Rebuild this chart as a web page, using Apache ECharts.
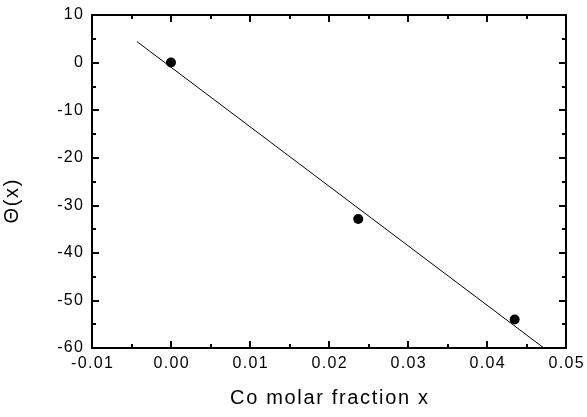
<!DOCTYPE html>
<html>
<head>
<meta charset="utf-8">
<script src="https://cdn.jsdelivr.net/npm/echarts@6/dist/echarts.min.js"></script>
<style>
  html, body { margin: 0; padding: 0; background: #fff; }
  #chart { width: 587px; height: 417px; }
</style>
</head>
<body>
<div id="chart"></div>
<script>
// measured points (Co molar fraction x, Theta(x))
var pointsX = [0.0, 0.0237, 0.0435];
var pointsY = [0.0, -32.9, -54.0];
// linear fit end points as drawn
var fitX = [-0.0043, 0.0472];
var fitY = [4.4, -60.0];

var xTicks = { min: -0.01, max: 0.05, interval: 0.01 };
var yTicks = { min: -60, max: 10, interval: 10 };

var SP = '\u200A';
function spaced(s) { return String(s).split('').join(SP); }

window.onload = function() {
    var chart = echarts.init(document.getElementById('chart'));
    var font = '"Liberation Sans", Arial, Helvetica, sans-serif';
    var axisLine = { show: true, onZero: false, lineStyle: { color: '#000', width: 2 } };
    var tick = { show: true, inside: true, length: 7, lineStyle: { color: '#000', width: 2 } };
    var minor = { show: true, splitNumber: 2, length: 4, lineStyle: { color: '#000', width: 2 } };

    chart.setOption({
        animation: false,
        backgroundColor: '#fff',
        grid: { left: 92, right: 21, top: 15, bottom: 69, containLabel: false, outerBoundsMode: 'none' },
        xAxis: [{
            type: 'value',
            min: xTicks.min, max: xTicks.max, interval: xTicks.interval,
            position: 'bottom',
            name: spaced('Co molar fraction x'),
            nameLocation: 'middle',
            nameGap: 40,
            nameTextStyle: { fontFamily: font, fontSize: 20, color: '#000' },
            axisLine: axisLine, axisTick: tick, minorTick: minor,
            splitLine: { show: false },
            axisLabel: {
                margin: 8, fontFamily: font, fontSize: 16, color: '#000',
                formatter: function(v) { return spaced(v.toFixed(2)); }
            }
        }, {
            type: 'value',
            min: xTicks.min, max: xTicks.max, interval: xTicks.interval,
            position: 'top',
            axisLine: axisLine, axisTick: tick, minorTick: minor,
            splitLine: { show: false }, axisLabel: { show: false }
        }],
        yAxis: [{
            type: 'value',
            min: yTicks.min, max: yTicks.max, interval: yTicks.interval,
            position: 'left',
            name: spaced('\u0398(x)'),
            nameLocation: 'middle',
            nameGap: 70,
            nameRotate: 90,
            nameTextStyle: { fontFamily: font, fontSize: 20, color: '#000', padding: [0, 40, 0, 0] },
            axisLine: axisLine, axisTick: tick, minorTick: minor,
            splitLine: { show: false },
            axisLabel: {
                margin: 9, fontFamily: font, fontSize: 16, color: '#000',
                formatter: function(v) { return spaced(v); }
            }
        }, {
            type: 'value',
            min: yTicks.min, max: yTicks.max, interval: yTicks.interval,
            position: 'right',
            axisLine: axisLine, axisTick: tick, minorTick: minor,
            splitLine: { show: false }, axisLabel: { show: false }
        }],
        series: [{
            type: 'line',
            data: fitX.map(function(x, i) { return [x, fitY[i]]; }),
            symbol: 'none',
            lineStyle: { color: '#000', width: 1 },
            z: 2
        }, {
            type: 'scatter',
            data: pointsX.map(function(x, i) { return [x, pointsY[i]]; }),
            symbol: 'circle',
            symbolSize: 10,
            itemStyle: { color: '#000', opacity: 1 },
            z: 3
        }]
    });
};
</script>
</body>
</html>
